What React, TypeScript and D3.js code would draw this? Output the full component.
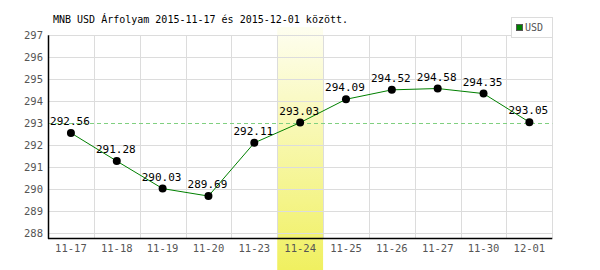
import React from "react";
import * as d3 from "d3";

const categories = ["11-17", "11-18", "11-19", "11-20", "11-23", "11-24", "11-25", "11-26", "11-27", "11-30", "12-01"];
const values = [292.56, 291.28, 290.03, 289.69, 292.11, 293.03, 294.09, 294.52, 294.58, 294.35, 293.05];
const yTicks = [288, 289, 290, 291, 292, 293, 294, 295, 296, 297];
const highlightCategory = "11-24";
const referenceValue = 293;
const title = "MNB USD Árfolyam 2015-11-17 és 2015-12-01 között.";
const seriesName = "USD";

export default function App() {
  const W = 600, H = 270;
  const left = 48, right = 552.3, top = 35.3, bottom = 238.3;
  const x = d3.scaleBand<string>().domain(categories).range([left, right]).padding(0);
  const y = d3.scaleLinear().domain([297, 287.77]).range([top, bottom]);
  const cx = (c: string) => (x(c) as number) + x.bandwidth() / 2;
  const line = d3
    .line<number>()
    .x((_, i) => cx(categories[i]))
    .y((v) => y(v))
    .curve(d3.curveLinear);
  const font = "'DejaVu Sans Mono', monospace";
  const hx = x(highlightCategory) as number;

  return (
    <div style={{ position: "absolute", left: 0, top: 0 }}>
      <svg width={W} height={H} style={{ display: "block" }}>
        <defs>
          <linearGradient id="hl" x1="0" y1="0" x2="0" y2="1">
            <stop offset="0%" stopColor="#fefef0" />
            <stop offset="100%" stopColor="#f0f060" />
          </linearGradient>
        </defs>
        <rect x={0} y={0} width={W} height={H} fill="#fff" />
        <rect x={hx} y={27} width={x.bandwidth()} height={H - 27} fill="url(#hl)" />
        {yTicks
          .filter((t) => t !== referenceValue)
          .map((t) => (
            <line key={"gy" + t} x1={left} x2={right} y1={Math.round(y(t)) + 0.5} y2={Math.round(y(t)) + 0.5} stroke="#dcdcdc" strokeWidth={1} />
          ))}
        {categories.map((c, i) =>
          i === 0 ? null : (
            <line key={"gx" + c} x1={Math.round(x(c) as number) + 0.5} x2={Math.round(x(c) as number) + 0.5} y1={top} y2={bottom} stroke="#dcdcdc" strokeWidth={1} />
          )
        )}
        <line x1={Math.round(right) + 0.5} x2={Math.round(right) + 0.5} y1={top} y2={bottom} stroke="#dcdcdc" />
        <line x1={left} x2={right} y1={Math.round(y(referenceValue)) + 0.5} y2={Math.round(y(referenceValue)) + 0.5} stroke="#80d080" strokeDasharray="4,3" strokeWidth={1} />
        <line x1={left + 0.5} x2={left + 0.5} y1={top} y2={bottom + 0.5} stroke="#000" strokeWidth={1.5} />
        <line x1={left} x2={right} y1={Math.round(bottom) + 0.5} y2={Math.round(bottom) + 0.5} stroke="#000" strokeWidth={1.5} />
        {yTicks.map((t) => (
          <text key={"ty" + t} x={43} y={y(t) + 4} textAnchor="end" fontFamily={font} fontSize={10.5} fill="#555">
            {t}
          </text>
        ))}
        {categories.map((c) => (
          <text key={"tx" + c} x={cx(c)} y={252} textAnchor="middle" fontFamily={font} fontSize={10.5} fill="#555">
            {c}
          </text>
        ))}
        <path d={line(values) || ""} fill="none" stroke="#008000" strokeWidth={1} />
        {values.map((v, i) => (
          <g key={"p" + i}>
            <circle cx={cx(categories[i])} cy={y(v)} r={4} fill="#000" />
            <text x={cx(categories[i]) - 1} y={y(v) - 8} textAnchor="middle" fontFamily={font} fontSize={11} fill="#000">
              {v.toFixed(2)}
            </text>
          </g>
        ))}
        <text x={53} y={23} fontFamily={font} fontSize={10} fill="#000">
          {title}
        </text>
        <rect x={511.5} y={17.5} width={41} height={20} fill="#fff" stroke="#dcdcdc" />
        <rect x={516.5} y={24.5} width={6} height={6} fill="#008000" stroke="#555" />
        <text x={525} y={31} fontFamily={font} fontSize={10} fill="#555">
          {seriesName}
        </text>
      </svg>
    </div>
  );
}
